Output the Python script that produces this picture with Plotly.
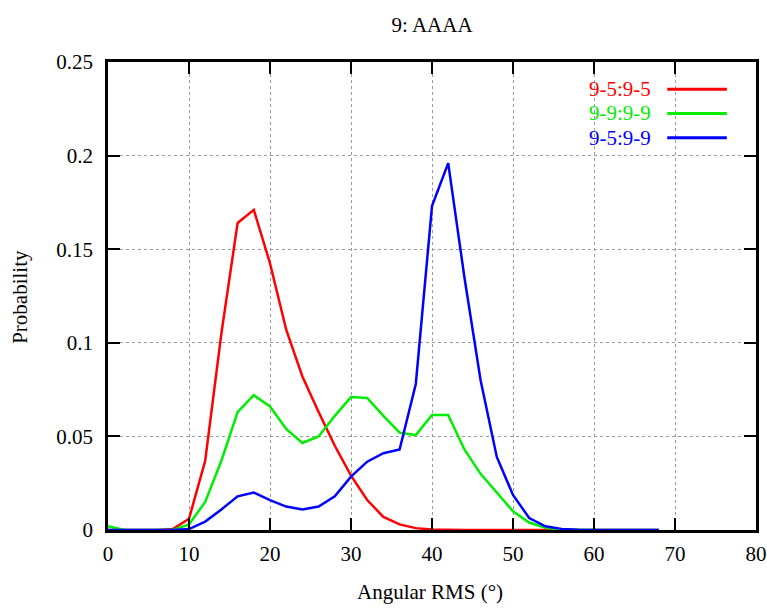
import plotly.graph_objects as go

x_vals = list(range(0, 70, 2))
red_vals = [0, 0, 0, 0, 0.0005, 0.006, 0.037, 0.105, 0.164, 0.171, 0.1425, 0.107, 0.082, 0.063,
            0.045, 0.029, 0.016, 0.007, 0.003, 0.001, 0.0003, 0, 0, 0, 0, 0, 0, 0, 0, 0,
            0, 0, 0, 0, 0]
green_vals = [0.002, 0, 0, 0, 0, 0.003, 0.015, 0.037, 0.063, 0.072, 0.066, 0.054, 0.0465, 0.050,
              0.061, 0.071, 0.0705, 0.061, 0.052, 0.0507, 0.0614, 0.0614, 0.043, 0.030, 0.020,
              0.010, 0.004, 0.0012, 0.0003, 0, 0, 0, 0, 0, 0]
blue_vals = [0, 0, 0, 0, 0, 0.0005, 0.0045, 0.011, 0.018, 0.020, 0.016, 0.0125, 0.011, 0.0125,
             0.018, 0.0285, 0.0365, 0.041, 0.043, 0.078, 0.173, 0.196, 0.135, 0.080, 0.039,
             0.0187, 0.0064, 0.002, 0.0006, 0.0002, 0, 0, 0, 0, 0]
series_names = ["9-5:9-5", "9-9:9-9", "9-5:9-9"]
series_colors = ["#ff0000", "#00ee00", "#0000ff"]
x_ticks = [0, 10, 20, 30, 40, 50, 60, 70, 80]
y_ticks = [0, 0.05, 0.1, 0.15, 0.2, 0.25]

FONT = "Liberation Serif, Times New Roman, serif"
FS = 21

fig = go.Figure()
for name, vals, col in zip(series_names, [red_vals, green_vals, blue_vals], series_colors):
    fig.add_trace(go.Scatter(x=x_vals, y=vals, mode="lines", name=name,
                             line=dict(color=col, width=2.5), showlegend=False))

# custom legend (text left of line sample, like gnuplot)
for i, (name, col) in enumerate(zip(series_names, series_colors)):
    yp = 0.942 - i * 0.052
    fig.add_annotation(x=0.841, y=yp, xref="paper", yref="paper", text=name,
                       showarrow=False, xanchor="right", yanchor="middle",
                       font=dict(color=col, size=FS, family=FONT))
    fig.add_shape(type="line", xref="paper", yref="paper", x0=0.863, x1=0.955,
                  y0=yp, y1=yp, line=dict(color=col, width=3))

# axis titles
fig.add_annotation(x=0.497, y=-0.132, xref="paper", yref="paper", text="Angular RMS (°)",
                   showarrow=False, xanchor="center", yanchor="middle",
                   font=dict(size=FS, family=FONT, color="black"))
fig.add_annotation(x=-0.136, y=0.498, xref="paper", yref="paper", text="Probability",
                   showarrow=False, xanchor="center", yanchor="middle", textangle=-90,
                   font=dict(size=FS, family=FONT, color="black"))

axis_common = dict(
    showline=True, linecolor="black", linewidth=2.5, mirror="allticks",
    ticks="inside", ticklen=12, tickwidth=2, tickcolor="black",
    showgrid=True, gridcolor="#9a9a9a", griddash="dot", gridwidth=1,
    zeroline=False, automargin=False,
    tickfont=dict(size=FS, family=FONT, color="black"),
)

fig.update_layout(
    width=767, height=608,
    margin=dict(l=108, r=11, t=62, b=78),
    paper_bgcolor="white", plot_bgcolor="white",
    title=dict(text="9: AAAA", xref="paper", x=0.5, xanchor="center",
               yref="container", y=0.959, yanchor="middle",
               font=dict(size=FS, family=FONT, color="black")),
    xaxis=dict(range=[0, 80], tickvals=x_ticks, ticklabelstandoff=3, **axis_common),
    yaxis=dict(range=[0, 0.25], tickvals=y_ticks, ticklabelstandoff=8, **axis_common),
)

fig.write_html(
    "out.html",
    config={"displayModeBar": False},
    post_script=("document.body.style.margin='0';"
                 "document.body.style.overflow='hidden';"
                 "document.documentElement.style.overflow='hidden';"),
)
